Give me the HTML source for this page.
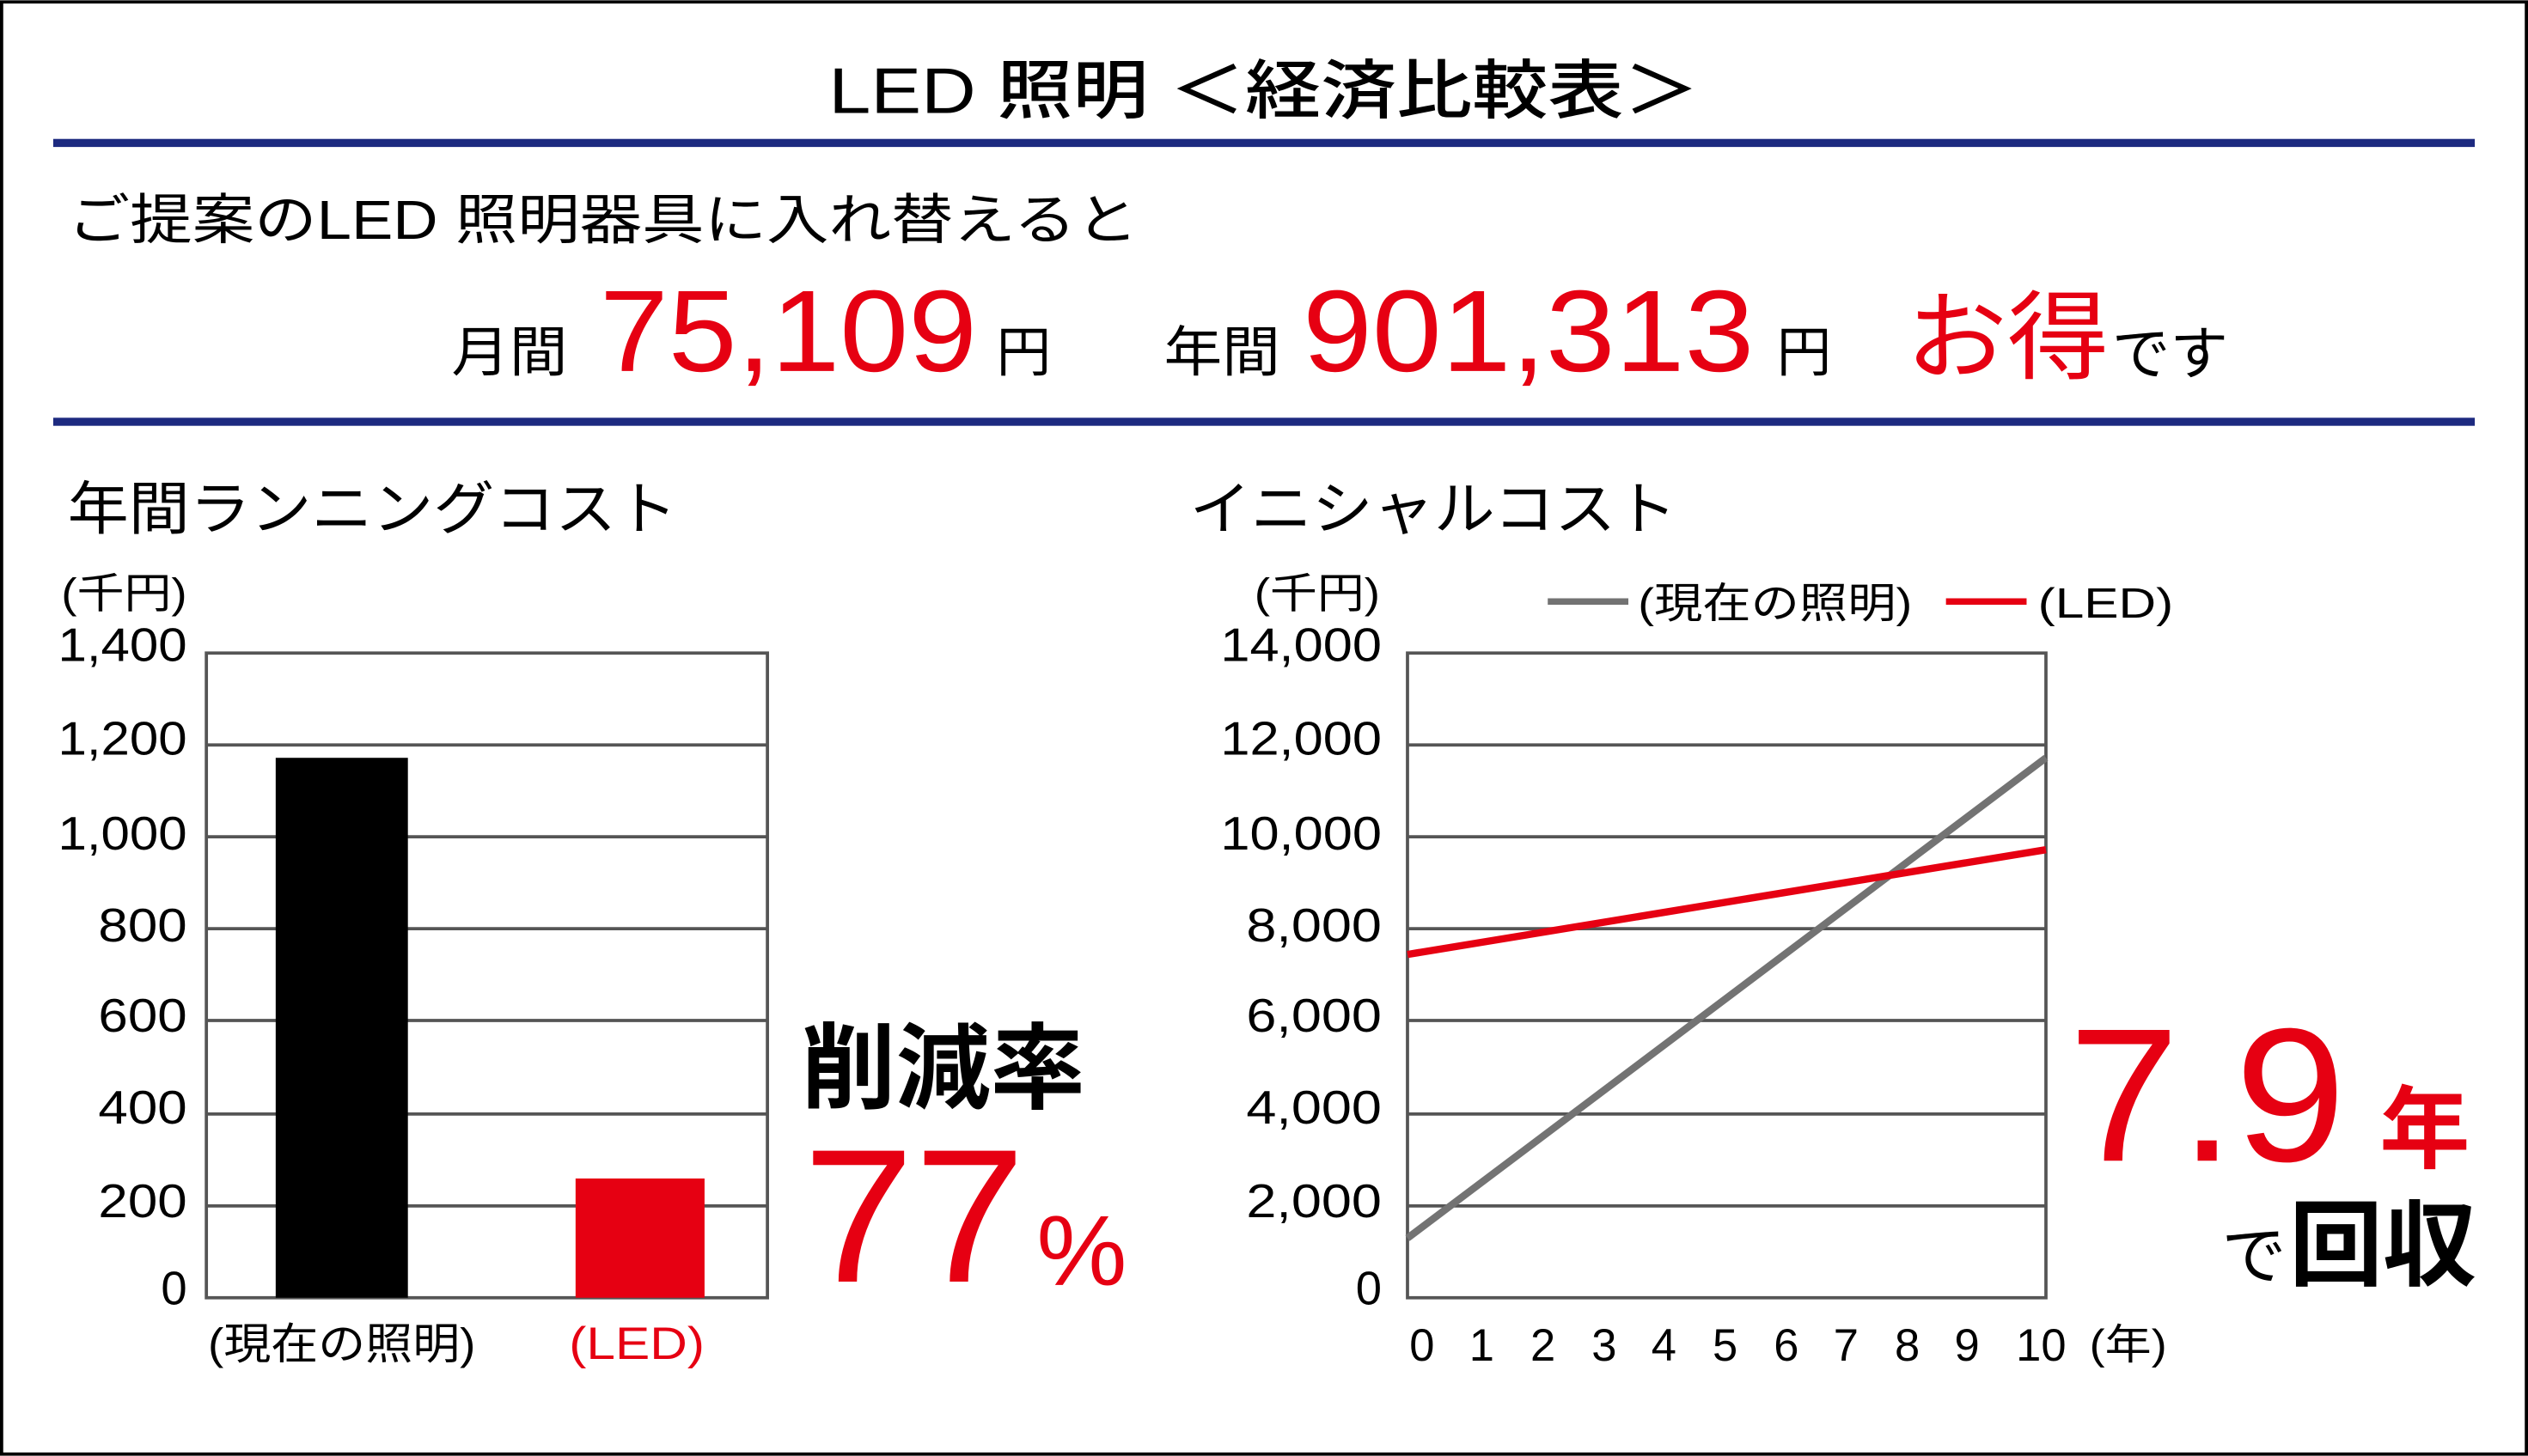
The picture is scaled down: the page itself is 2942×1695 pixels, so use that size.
<!DOCTYPE html>
<html><head><meta charset="utf-8"><style>
html,body{margin:0;padding:0;background:#fff;}
svg{display:block;}
text{font-family:"Liberation Sans","Noto Sans CJK JP",sans-serif;}
</style></head><body>
<svg width="2942" height="1695" viewBox="0 0 1568 903" xmlns="http://www.w3.org/2000/svg">
<rect x="1" y="1" width="1566" height="901" fill="#fff" stroke="#000" stroke-width="2"/>
<text x="784" y="70" font-size="40" text-anchor="middle" font-weight="500" textLength="540" lengthAdjust="spacingAndGlyphs">LED 照明 ＜経済比較表＞</text>
<rect x="33" y="86" width="1502" height="5" fill="#1d2a80"/>
<text x="42" y="148" font-size="34" textLength="664" lengthAdjust="spacingAndGlyphs">ご提案のLED 照明器具に入れ替えると</text>
<text x="280" y="230" font-size="34" textLength="72" lengthAdjust="spacingAndGlyphs">月間</text>
<text x="372" y="230" font-size="72" fill="#e60012" textLength="234" lengthAdjust="spacingAndGlyphs">75,109</text>
<text x="618" y="230" font-size="34">円</text>
<text x="722" y="230" font-size="34" textLength="72" lengthAdjust="spacingAndGlyphs">年間</text>
<text x="808" y="230" font-size="72" fill="#e60012" textLength="280" lengthAdjust="spacingAndGlyphs">901,313</text>
<text x="1102" y="230" font-size="34">円</text>
<text x="1182" y="230" font-size="60" fill="#e60012" textLength="126" lengthAdjust="spacingAndGlyphs">お得</text>
<text x="1310" y="232" font-size="36" textLength="72" lengthAdjust="spacingAndGlyphs">です</text>
<rect x="33" y="259" width="1502" height="5" fill="#1d2a80"/>
<text x="42" y="328" font-size="36" textLength="378" lengthAdjust="spacingAndGlyphs">年間ランニングコスト</text>
<text x="738" y="328" font-size="36" textLength="302" lengthAdjust="spacingAndGlyphs">イニシャルコスト</text>

<!-- left chart -->
<text x="38" y="377" font-size="26" textLength="78" lengthAdjust="spacingAndGlyphs">(千円)</text>
<g stroke="#555" stroke-width="2">
<line x1="128" y1="462" x2="476" y2="462"/><line x1="128" y1="519" x2="476" y2="519"/>
<line x1="128" y1="576" x2="476" y2="576"/><line x1="128" y1="633" x2="476" y2="633"/>
<line x1="128" y1="691" x2="476" y2="691"/><line x1="128" y1="748" x2="476" y2="748"/>
</g>
<rect x="128" y="405" width="348" height="400" fill="none" stroke="#555" stroke-width="2"/>
<rect x="171" y="470" width="82" height="335" fill="#000"/>
<rect x="357" y="731" width="80" height="74" fill="#e60012"/>
<g font-size="29" text-anchor="end" lengthAdjust="spacingAndGlyphs">
<text x="116" y="410" textLength="80" lengthAdjust="spacingAndGlyphs">1,400</text><text x="116" y="468" textLength="80" lengthAdjust="spacingAndGlyphs">1,200</text><text x="116" y="527" textLength="80" lengthAdjust="spacingAndGlyphs">1,000</text>
<text x="116" y="584" textLength="55" lengthAdjust="spacingAndGlyphs">800</text><text x="116" y="640" textLength="55" lengthAdjust="spacingAndGlyphs">600</text><text x="116" y="697" textLength="55" lengthAdjust="spacingAndGlyphs">400</text>
<text x="116" y="755" textLength="55" lengthAdjust="spacingAndGlyphs">200</text><text x="116" y="809">0</text>
</g>
<text x="212" y="843" font-size="27" text-anchor="middle" textLength="166" lengthAdjust="spacingAndGlyphs">(現在の照明)</text>
<text x="395" y="843" font-size="28" text-anchor="middle" fill="#e60012" textLength="84" lengthAdjust="spacingAndGlyphs">(LED)</text>
<text x="497" y="683" font-size="58" font-weight="bold" textLength="176" lengthAdjust="spacingAndGlyphs">削減率</text>
<text x="498" y="795" font-size="118" fill="#e60012" textLength="138" lengthAdjust="spacingAndGlyphs">77</text>
<text x="643" y="797" font-size="62" fill="#e60012" textLength="56" lengthAdjust="spacingAndGlyphs">%</text>

<!-- right chart -->
<text x="778" y="377" font-size="26" textLength="78" lengthAdjust="spacingAndGlyphs">(千円)</text>
<line x1="960" y1="373" x2="1010" y2="373" stroke="#737373" stroke-width="4"/>
<text x="1016" y="383" font-size="26" textLength="170" lengthAdjust="spacingAndGlyphs">(現在の照明)</text>
<line x1="1207" y1="373" x2="1257" y2="373" stroke="#e60012" stroke-width="4"/>
<text x="1264" y="383" font-size="26" textLength="84" lengthAdjust="spacingAndGlyphs">(LED)</text>
<g stroke="#555" stroke-width="2">
<line x1="873" y1="462" x2="1269" y2="462"/><line x1="873" y1="519" x2="1269" y2="519"/>
<line x1="873" y1="576" x2="1269" y2="576"/><line x1="873" y1="633" x2="1269" y2="633"/>
<line x1="873" y1="691" x2="1269" y2="691"/><line x1="873" y1="748" x2="1269" y2="748"/>
</g>
<rect x="873" y="405" width="396" height="400" fill="none" stroke="#555" stroke-width="2"/>
<line x1="873" y1="768" x2="1269" y2="470" stroke="#737373" stroke-width="4.5"/>
<line x1="873" y1="592" x2="1269" y2="527" stroke="#e60012" stroke-width="4.5"/>
<g font-size="29" text-anchor="end">
<text x="857" y="410" textLength="100" lengthAdjust="spacingAndGlyphs">14,000</text><text x="857" y="468" textLength="100" lengthAdjust="spacingAndGlyphs">12,000</text><text x="857" y="527" textLength="100" lengthAdjust="spacingAndGlyphs">10,000</text>
<text x="857" y="584" textLength="84" lengthAdjust="spacingAndGlyphs">8,000</text><text x="857" y="640" textLength="84" lengthAdjust="spacingAndGlyphs">6,000</text><text x="857" y="697" textLength="84" lengthAdjust="spacingAndGlyphs">4,000</text>
<text x="857" y="755" textLength="84" lengthAdjust="spacingAndGlyphs">2,000</text><text x="857" y="809">0</text>
</g>
<g font-size="28" text-anchor="middle">
<text x="882" y="844">0</text><text x="919" y="844">1</text><text x="957" y="844">2</text>
<text x="995" y="844">3</text><text x="1032" y="844">4</text><text x="1070" y="844">5</text>
<text x="1108" y="844">6</text><text x="1145" y="844">7</text><text x="1183" y="844">8</text>
<text x="1220" y="844">9</text><text x="1266" y="844">10</text>
</g>
<text x="1296" y="843" font-size="26" textLength="48" lengthAdjust="spacingAndGlyphs">(年)</text>
<text x="1283" y="720" font-size="118" fill="#e60012" textLength="172" lengthAdjust="spacingAndGlyphs">7.9</text>
<text x="1476" y="720" font-size="56" fill="#e60012" font-weight="bold">年</text>
<text x="1378" y="793" font-size="40">で</text>
<text x="1420" y="793" font-size="58" font-weight="bold" textLength="116" lengthAdjust="spacingAndGlyphs">回収</text>
</svg>
</body></html>
